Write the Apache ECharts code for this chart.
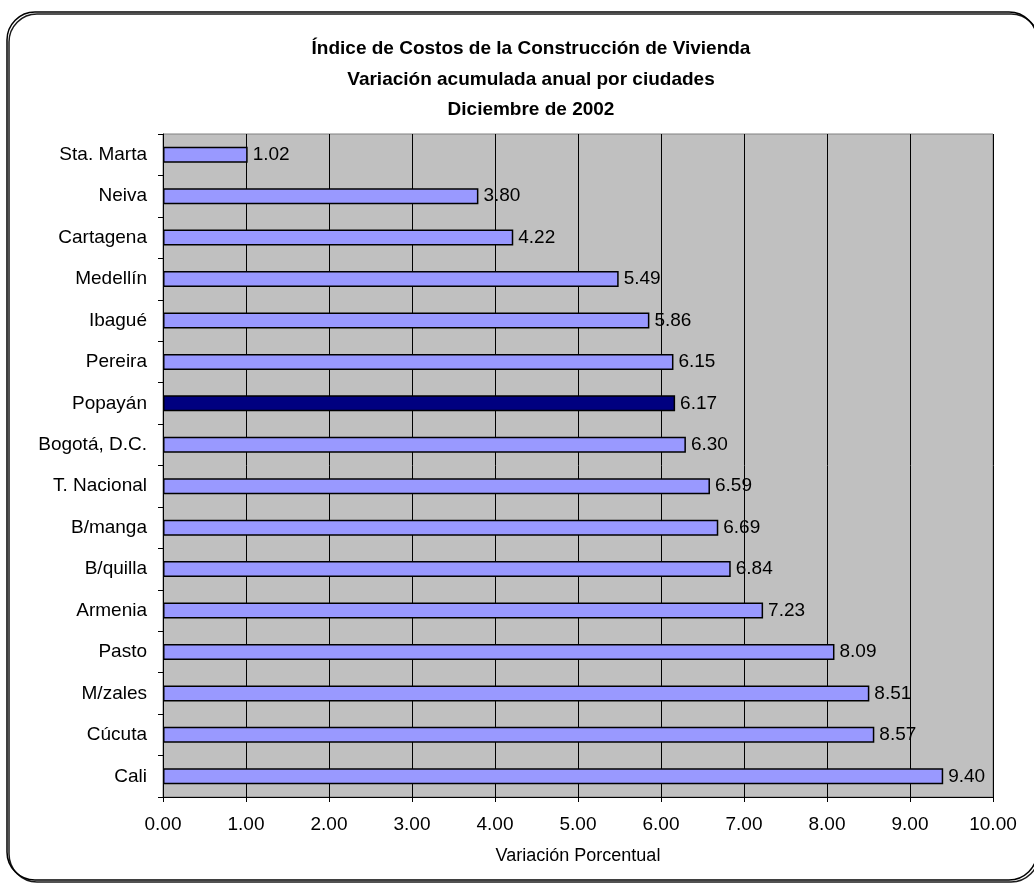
<!DOCTYPE html>
<html>
<head>
<meta charset="utf-8">
<script src="https://cdn.jsdelivr.net/npm/echarts@6/dist/echarts.min.js"></script>
<style>
  html, body { margin: 0; padding: 0; background: #fff; }
  #chart { width: 1034px; height: 883px; }
</style>
</head>
<body>
<div id="chart"></div>
<script>
// datos (de arriba hacia abajo)
const ciudades = ['Sta. Marta', 'Neiva', 'Cartagena', 'Medellín', 'Ibagué', 'Pereira', 'Popayán',
  'Bogotá, D.C.', 'T. Nacional', 'B/manga', 'B/quilla', 'Armenia', 'Pasto', 'M/zales', 'Cúcuta', 'Cali']
const variacion = [1.02, 3.80, 4.22, 5.49, 5.86, 6.15, 6.17, 6.30, 6.59, 6.69, 6.84, 7.23, 8.09, 8.51, 8.57, 9.40]
const destacada = 'Popayán'

const tituloLineas = [
  'Índice de Costos de la Construcción de Vivienda',
  'Variación acumulada anual por ciudades',
  'Diciembre de 2002'
]

const fuente = '"Liberation Sans", Arial, sans-serif'

const chart = echarts.init(document.getElementById('chart'))

chart.setOption({
  animation: false,
  backgroundColor: '#fff',
  textStyle: { fontFamily: fuente },
  graphic: [{
    type: 'rect',
    shape: { x: 7, y: 12, width: 1030, height: 868, r: 28 },
    style: {
      fill: 'none', stroke: '#000', lineWidth: 1.5,
      shadowColor: 'rgba(0,0,0,0.9)', shadowOffsetX: 2, shadowOffsetY: 2, shadowBlur: 0
    },
    silent: true,
    z: -10
  }],
  title: {
    text: tituloLineas.join('\n'),
    left: 526,
    top: 29,
    textAlign: 'center',
    textStyle: { fontFamily: fuente, fontSize: 19, fontWeight: 'bold', color: '#000', lineHeight: 30.5 }
  },
  grid: {
    left: 163, right: 41, top: 134, bottom: 86,
    show: true, backgroundColor: '#C0C0C0', borderColor: '#808080', borderWidth: 1
  },
  xAxis: {
    type: 'value',
    min: 0, max: 10, interval: 1,
    name: 'Variación Porcentual',
    nameLocation: 'middle',
    nameGap: 50,
    nameTextStyle: { fontFamily: fuente, fontSize: 18, color: '#000' },
    axisLine: { show: true, lineStyle: { color: '#000', width: 1 } },
    axisTick: { show: true, length: 5, lineStyle: { color: '#000' } },
    axisLabel: { fontFamily: fuente, fontSize: 19, color: '#000', margin: 18, formatter: v => v.toFixed(2) },
    splitLine: { show: true, lineStyle: { color: '#000', width: 1 } }
  },
  yAxis: {
    type: 'category',
    data: ciudades,
    inverse: true,
    axisLine: { show: true, lineStyle: { color: '#000', width: 1 } },
    axisTick: { show: true, length: 5, lineStyle: { color: '#000' } },
    axisLabel: { fontFamily: fuente, fontSize: 19, color: '#000', margin: 16 },
    splitLine: { show: false }
  },
  series: [{
    type: 'bar',
    barWidth: 16,
    data: variacion.map((v, i) => ({
      value: v,
      itemStyle: { color: ciudades[i] === destacada ? '#000080' : '#9999FF' }
    })),
    itemStyle: { borderColor: '#000', borderWidth: 1.5 },
    label: {
      show: true,
      position: 'right',
      distance: 5,
      fontFamily: fuente,
      fontSize: 19,
      color: '#000',
      formatter: p => p.value.toFixed(2)
    }
  }]
})

window.addEventListener('resize', () => chart.resize())
</script>
</body>
</html>
